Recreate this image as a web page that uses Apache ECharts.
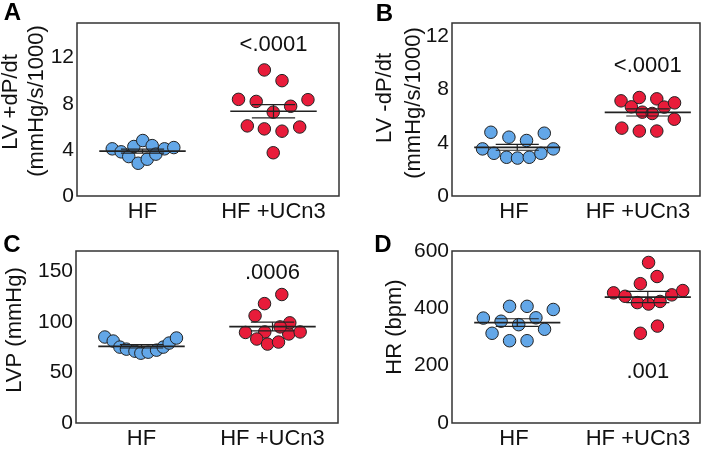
<!DOCTYPE html>
<html><head><meta charset="utf-8">
<script src="https://cdn.jsdelivr.net/npm/echarts@6/dist/echarts.min.js"></script>
<style>html,body{margin:0;padding:0;background:#fff}#c{width:714px;height:450px}</style>
</head><body><div id="c"></div>
<script>
// ---------- data ----------
const categories = ['HF', 'HF +UCn3'];

// Panel A: LV +dP/dt (mmHg/s/1000)
const aHF   = [4.09, 3.83, 3.42, 4.29, 2.84, 4.81, 3.19, 4.37, 3.63, 4.09, 4.20];
const aHFx  = [-0.231, -0.163, -0.105, -0.066, -0.033, 0.002, 0.036, 0.074, 0.102, 0.168, 0.239];
const aUC   = [10.93, 10.0, 8.38, 8.2, 7.78, 8.35, 7.27, 6.08, 5.82, 5.62, 5.98, 3.75];
const aUCx  = [-0.07, 0.065, -0.267, -0.132, 0.131, 0.263, -0.002, -0.2, -0.07, 0.065, 0.2, -0.002];
const aTicks = [0, 4, 8, 12];

// Panel B: LV -dP/dt (mmHg/s/1000)
const bHF   = [3.54, 4.79, 3.21, 2.91, 4.42, 2.85, 4.17, 2.91, 3.21, 4.72, 3.54];
const bHFx  = [-0.266, -0.202, -0.179, -0.082, -0.064, 0.002, 0.071, 0.092, 0.181, 0.207, 0.276];
const bUC   = [7.15, 6.7, 7.4, 6.3, 6.2, 7.3, 6.68, 7.0, 5.77, 5.1, 4.88, 4.88];
const bUCx  = [-0.205, -0.126, -0.065, -0.042, 0.034, 0.069, 0.126, 0.205, 0.203, -0.199, -0.065, 0.069];
const bTicks = [0, 4, 8, 12];

// Panel C: LVP (mmHg)
const cHF   = [85, 81, 75, 73, 71, 69, 70, 72, 75, 79, 84];
const cHFx  = [-0.28, -0.216, -0.165, -0.115, -0.05, -0.005, 0.051, 0.115, 0.166, 0.211, 0.267];
const cUC   = [127, 118, 106, 89.5, 90, 83, 78, 80, 88, 99, 95, 90];
const cUCx  = [0.071, -0.061, -0.133, -0.206, -0.059, -0.12, -0.038, 0.046, 0.124, 0.132, 0.058, 0.211];
const cTicks = [0, 50, 100, 150];

// Panel D: HR (bpm)
const dHF   = [366, 313, 355, 407, 287, 343, 407, 287, 367, 327, 396];
const dHFx  = [-0.26, -0.193, -0.124, -0.059, -0.059, 0.011, 0.075, 0.075, 0.143, 0.209, 0.276];
const dUC   = [454, 442, 486, 313, 420, 560, 415, 511, 338, 424, 447, 462];
const dUCx  = [-0.262, -0.174, -0.057, -0.057, -0.08, 0.006, 0.006, 0.071, 0.074, 0.094, 0.184, 0.268];
const dTicks = [0, 200, 400, 600];

// p-values and their value-axis height
const pLabels = ['<.0001', '<.0001', '.0006', '.001'];
const pValuesY = [13.1, 9.8, 148, 177];

const yTitles = [['LV +dP/dt', '(mmHg/s/1000)'], ['LV -dP/dt', '(mmHg/s/1000)'], ['LVP (mmHg)'], ['HR (bpm)']];
const panelLetters = ['A', 'B', 'C', 'D'];

// ---------- layout / style ----------
const FONT = '"Liberation Sans", Arial, Helvetica, sans-serif';
const INK = '#111';
const BLUE = '#63a7e8';
const RED = '#e81c3a';

const panels = [
  {hf: aHF, hfx: aHFx, uc: aUC, ucx: aUCx, ticks: aTicks, max: 15, interval: 4, xmax: 2,
   grid: {left: 77, top: 23, width: 262, height: 173}},
  {hf: bHF, hfx: bHFx, uc: bUC, ucx: bUCx, ticks: bTicks, max: 13, interval: 4, xmax: 1.9,
   grid: {left: 452, top: 23, width: 248, height: 173}},
  {hf: cHF, hfx: cHFx, uc: cUC, ucx: cUCx, ticks: cTicks, max: 170, interval: 50, xmax: 2,
   grid: {left: 76, top: 251, width: 262, height: 174}},
  {hf: dHF, hfx: dHFx, uc: dUC, ucx: dUCx, ticks: dTicks, max: 600, interval: 200, xmax: 1.9,
   grid: {left: 452, top: 251, width: 248, height: 174}}
];
const letterPos = [[12.5, 13.5], [384.5, 14.5], [12, 245], [383, 245.5]];
const titlePos = [[[11, 102], [37, 101]], [[384.5, 98], [413.5, 103]], [[15, 330]], [[395, 327]]];

function meanSem(arr) {
  const n = arr.length;
  const m = arr.reduce((a, b) => a + b, 0) / n;
  const sd = Math.sqrt(arr.reduce((a, b) => a + (b - m) * (b - m), 0) / (n - 1));
  return [m, sd / Math.sqrt(n)];
}

const grids = [], xAxes = [], yAxes = [], series = [], graphics = [];

panels.forEach((p, i) => {
  grids.push(Object.assign({show: true, borderColor: '#333', borderWidth: 1.5, backgroundColor: 'transparent'}, p.grid));
  xAxes.push({
    gridIndex: i, type: 'category', data: categories, boundaryGap: true,
    axisLine: {show: false}, axisTick: {show: false},
    axisLabel: {interval: 0, fontSize: 22, color: INK, fontFamily: FONT, margin: 5}
  });
  xAxes.push({gridIndex: i, type: 'value', min: 0, max: p.xmax, show: false});
  yAxes.push({
    gridIndex: i, type: 'value', min: 0, max: p.max, interval: p.interval,
    axisLine: {show: false}, axisTick: {show: false}, splitLine: {show: false},
    axisLabel: {fontSize: 21, color: INK, fontFamily: FONT, margin: 3,
      formatter: v => (p.ticks.indexOf(v) >= 0 ? String(v) : '')}
  });
  const xi = 2 * i + 1;
  series.push({
    type: 'scatter', xAxisIndex: xi, yAxisIndex: i, symbolSize: 12.5,
    itemStyle: {color: BLUE, borderColor: '#222', borderWidth: 1, opacity: 1},
    data: p.hf.map((v, k) => [0.5 + p.hfx[k], v]), z: 2
  });
  series.push({
    type: 'scatter', xAxisIndex: xi, yAxisIndex: i, symbolSize: 12.5,
    itemStyle: {color: RED, borderColor: '#222', borderWidth: 1, opacity: 1},
    data: p.uc.map((v, k) => [1.5 + p.ucx[k], v]), z: 2
  });
  const sHF = meanSem(p.hf), sUC = meanSem(p.uc);
  series.push({
    type: 'custom', coordinateSystem: 'cartesian2d', xAxisIndex: xi, yAxisIndex: i, z: 5,
    encode: {x: 0, y: 1},
    data: [[0.5, sHF[0], sHF[1]], [1.5, sUC[0], sUC[1]]],
    renderItem: (params, api) => {
      const c = api.value(0), m = api.value(1), s = api.value(2);
      const L = (a, b, w) => ({type: 'line', shape: {x1: a[0], y1: a[1], x2: b[0], y2: b[1]},
        style: {stroke: '#222', lineWidth: w}});
      return {type: 'group', children: [
        L(api.coord([c - 0.33, m]), api.coord([c + 0.33, m]), 1.7),
        L(api.coord([c - 0.165, m + s]), api.coord([c + 0.165, m + s]), 1.2),
        L(api.coord([c - 0.165, m - s]), api.coord([c + 0.165, m - s]), 1.2),
        L(api.coord([c, m + s]), api.coord([c, m - s]), 1.2)
      ]};
    }
  });
  series.push({
    type: 'custom', coordinateSystem: 'cartesian2d', xAxisIndex: xi, yAxisIndex: i, z: 6,
    encode: {x: 0, y: 1}, silent: true,
    data: [[1.5, pValuesY[i]]],
    renderItem: (params, api) => {
      const pt = api.coord([api.value(0), api.value(1)]);
      return {type: 'text', x: pt[0], y: pt[1],
        style: {text: pLabels[i], font: '22px ' + FONT, fill: INK,
          textAlign: 'center', textVerticalAlign: 'middle', align: 'center', verticalAlign: 'middle'}};
    }
  });

  graphics.push({
    type: 'text', x: letterPos[i][0], y: letterPos[i][1],
    style: {text: panelLetters[i], font: 'bold 24px ' + FONT, fill: '#000',
      textAlign: 'center', textVerticalAlign: 'middle', align: 'center', verticalAlign: 'middle'}
  });
  yTitles[i].forEach((t, k) => {
    graphics.push({
      type: 'text', x: titlePos[i][k][0], y: titlePos[i][k][1], rotation: Math.PI / 2,
      style: {text: t, font: '22px ' + FONT, fill: INK,
        textAlign: 'center', textVerticalAlign: 'middle', align: 'center', verticalAlign: 'middle'}
    });
  });
});

const chart = echarts.init(document.getElementById('c'), null, {renderer: 'canvas'});
chart.setOption({
  animation: false,
  backgroundColor: '#fff',
  grid: grids, xAxis: xAxes, yAxis: yAxes, series: series, graphic: graphics
});
</script></body></html>
